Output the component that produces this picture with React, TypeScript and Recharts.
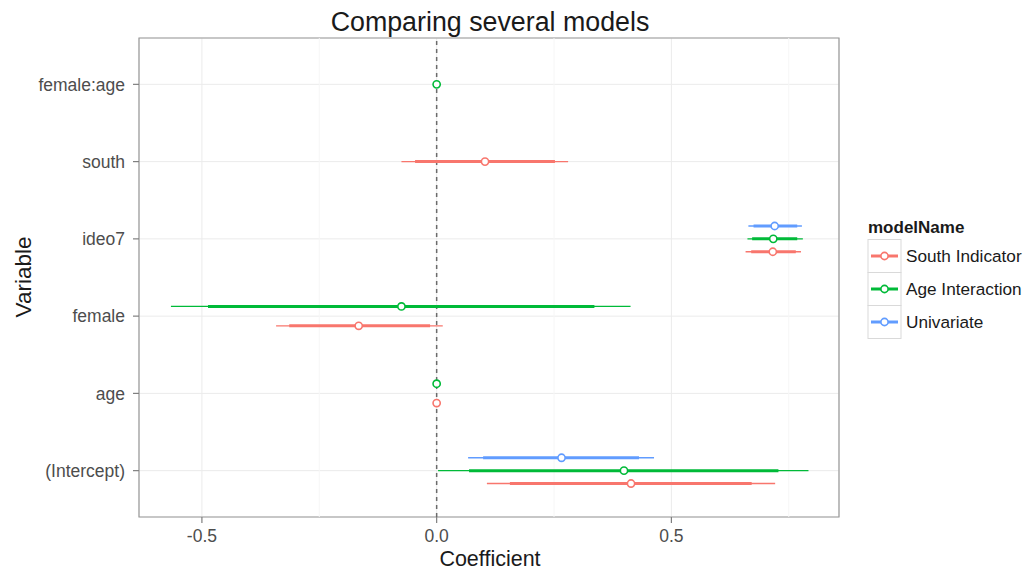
import React from 'react';
import { ScatterChart, Scatter, XAxis, YAxis, CartesianGrid, ErrorBar, ReferenceLine, ReferenceArea } from 'recharts';

// coefficient names, bottom to top
const variables = ['(Intercept)', 'age', 'female', 'ideo7', 'south', 'female:age'];
const modelNames = ['South Indicator', 'Age Interaction', 'Univariate'];
const modelColors = ['#F8766D', '#00BA38', '#619CFF'];
const xTicks = [-0.5, 0, 0.5];
const minorTicks = [-0.25, 0.25, 0.75];

// values per variable (same order as variables), null = not in model
const southCoef = [0.414, 0.0, -0.166, 0.716, 0.103, null];
const southInnerLow = [0.156, -0.001, -0.314, 0.67, -0.046, null];
const southInnerHigh = [0.671, 0.001, -0.014, 0.765, 0.252, null];
const southOuterLow = [0.107, -0.002, -0.342, 0.658, -0.075, null];
const southOuterHigh = [0.721, 0.002, 0.013, 0.776, 0.28, null];

const ageCoef = [0.399, 0.0, -0.075, 0.717, null, 0.0];
const ageInnerLow = [0.069, -0.001, -0.487, 0.672, null, -0.001];
const ageInnerHigh = [0.728, 0.001, 0.336, 0.768, null, 0.001];
const ageOuterLow = [0.003, -0.002, -0.566, 0.662, null, -0.002];
const ageOuterHigh = [0.792, 0.002, 0.413, 0.78, null, 0.002];

const uniCoef = [0.266, null, null, 0.72, null, null];
const uniInnerLow = [0.099, null, null, 0.675, null, null];
const uniInnerHigh = [0.431, null, null, 0.768, null, null];
const uniOuterLow = [0.067, null, null, 0.664, null, null];
const uniOuterHigh = [0.463, null, null, 0.778, null, null];

const models = [
  { coef: southCoef, il: southInnerLow, ih: southInnerHigh, ol: southOuterLow, oh: southOuterHigh },
  { coef: ageCoef, il: ageInnerLow, ih: ageInnerHigh, ol: ageOuterLow, oh: ageOuterHigh },
  { coef: uniCoef, il: uniInnerLow, ih: uniInnerHigh, ol: uniOuterLow, oh: uniOuterHigh },
];

const X_MIN = -0.634;
const X_MAX = 0.857;
const DODGE = 0.5;

// vertical dodge like ggplot's position_dodgev
function buildRows(m: number) {
  const rows: any[] = [];
  variables.forEach((v, vi) => {
    const present = models.map((md, i) => (md.coef[vi] !== null ? i : -1)).filter((i) => i >= 0);
    const k = present.indexOf(m);
    if (k < 0) return;
    const n = present.length;
    const md = models[m];
    const c = md.coef[vi] as number;
    rows.push({
      x: c,
      y: vi + 1 + (k - (n - 1) / 2) * (DODGE / n),
      inner: [c - (md.il[vi] as number), (md.ih[vi] as number) - c],
      outer: [c - (md.ol[vi] as number), (md.oh[vi] as number) - c],
    });
  });
  return rows;
}

const font = '"Liberation Sans", Arial, Helvetica, sans-serif';

export default function App() {
  return (
    <div style={{ position: 'absolute', left: 0, top: 0, width: 1030, height: 570, background: '#fff', fontFamily: font }}>
      <ScatterChart width={1030} height={570} margin={{ top: 38, right: 191, bottom: 0, left: 0 }}>
        <CartesianGrid stroke="#EBEBEB" strokeWidth={1} />
        {minorTicks.map((t) => (
          <ReferenceLine key={t} x={t} stroke="#F6F6F6" strokeWidth={1} />
        ))}
        <XAxis
          type="number"
          dataKey="x"
          domain={[X_MIN, X_MAX]}
          allowDataOverflow
          ticks={xTicks}
          tickFormatter={(v: number) => v.toFixed(1)}
          height={53}
          axisLine={false}
          tickSize={6}
          tickMargin={6.5}
          tickLine={{ stroke: '#7F7F7F', strokeWidth: 1.2 }}
          tick={{ fill: '#4D4D4D', fontSize: 17.5, fontFamily: font }}
        />
        <YAxis
          type="number"
          dataKey="y"
          domain={[0.4, 6.6]}
          allowDataOverflow
          ticks={[1, 2, 3, 4, 5, 6]}
          tickFormatter={(v: number) => variables[Math.round(v) - 1]}
          width={139}
          axisLine={false}
          tickSize={6}
          tickMargin={8}
          tickLine={{ stroke: '#7F7F7F', strokeWidth: 1.2 }}
          tick={{ fill: '#4D4D4D', fontSize: 17.5, fontFamily: font }}
        />
        <ReferenceLine x={0} stroke="#6b6b6b" strokeWidth={1.5} strokeDasharray="4 4" />
        {models.map((_, m) => (
          <Scatter
            key={m}
            data={buildRows(m)}
            isAnimationActive={false}
            shape={(p: any) => (
              <circle cx={p.cx} cy={p.cy} r={3.6} fill="#fff" stroke={modelColors[m]} strokeWidth={1.6} />
            )}
          >
            <ErrorBar dataKey="outer" direction="x" width={0} stroke={modelColors[m]} strokeWidth={1.3} isAnimationActive={false} />
            <ErrorBar dataKey="inner" direction="x" width={0} stroke={modelColors[m]} strokeWidth={3} isAnimationActive={false} />
          </Scatter>
        ))}
        <ReferenceArea x1={X_MIN} x2={X_MAX} y1={0.4} y2={6.6} fill="none" stroke="#999" strokeWidth={1.2} ifOverflow="visible" />
      </ScatterChart>

      <svg width={1030} height={570} style={{ position: 'absolute', left: 0, top: 0, pointerEvents: 'none' }}>
        <text x={490} y={31} textAnchor="middle" fontSize={26.8} fill="#1a1a1a" fontFamily={font}>
          Comparing several models
        </text>
        <text x={490} y={565.5} textAnchor="middle" fontSize={21.5} fill="#1a1a1a" fontFamily={font}>
          Coefficient
        </text>
        <text transform="translate(31,277) rotate(-90)" textAnchor="middle" fontSize={22.5} fill="#1a1a1a" fontFamily={font}>
          Variable
        </text>
        <text x={868} y={233} fontSize={17} fontWeight="bold" fill="#1a1a1a" fontFamily={font}>
          modelName
        </text>
        {modelNames.map((name, i) => {
          const top = 239.5 + i * 33;
          const cy = top + 16.5;
          return (
            <g key={name}>
              <rect x={868} y={top} width={33} height={33} fill="#fff" stroke="#D9D9D9" strokeWidth={1} />
              <line x1={871} x2={898} y1={cy} y2={cy} stroke={modelColors[i]} strokeWidth={3} />
              <circle cx={884.5} cy={cy} r={3.6} fill="#fff" stroke={modelColors[i]} strokeWidth={1.6} />
              <text x={906} y={cy + 6} fontSize={17.2} fill="#1a1a1a" fontFamily={font}>
                {name}
              </text>
            </g>
          );
        })}
      </svg>
    </div>
  );
}
